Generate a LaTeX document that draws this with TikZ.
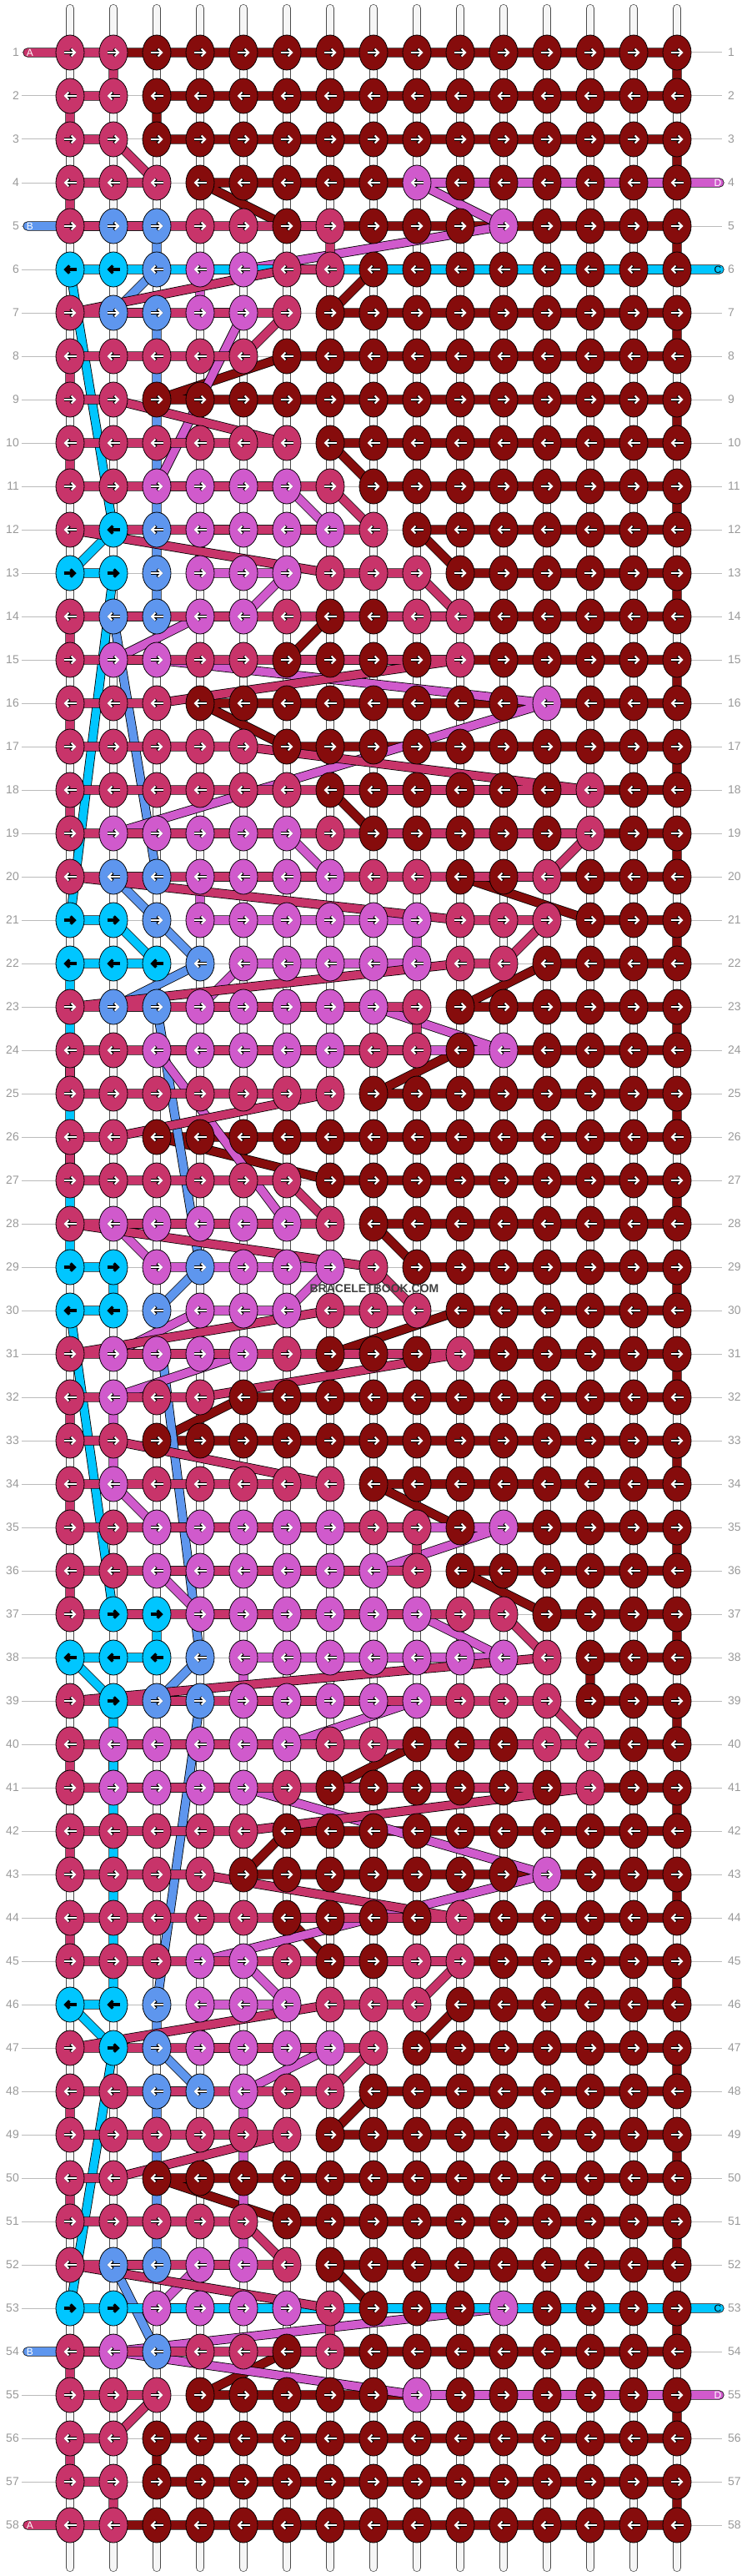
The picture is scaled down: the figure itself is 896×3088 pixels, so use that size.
\documentclass[tikz,border=0pt]{standalone}
\usepackage{fontspec}
\setmainfont{Liberation Sans}
\usepackage{xstring}
\usetikzlibrary{shapes.geometric,arrows.meta}

\pgfdeclarelayer{threads}
\pgfsetlayers{threads,main}

\definecolor{cola}{HTML}{C8346A}
\definecolor{colb}{HTML}{5E96EE}
\definecolor{colc}{HTML}{00C6FF}
\definecolor{cold}{HTML}{D05ACC}
\definecolor{colm}{HTML}{860C0C}
\colorlet{arra}{white}
\colorlet{arrb}{white}
\colorlet{arrc}{black}
\colorlet{arrd}{white}
\colorlet{arrm}{white}
\definecolor{basewhite}{HTML}{F6F6F6}
\definecolor{guidegrey}{HTML}{BBBBBB}
\definecolor{labelgrey}{HTML}{999999}

\begin{document}
\begin{tikzpicture}[
	x=1pt, y=-1pt,
	knot/.style={
		shape=ellipse,
		draw=black,
		line width=0.8pt,
		minimum width=34pt,
		minimum height=42pt,
		inner sep=0pt,
		fill=col#1,
	},
	thread/.style={
		draw=black,
		line width=0.8pt,
		double distance=9.6pt,
		line join=round,
		line cap=round,
	},
	base/.style={
		draw=black!70,
		line width=0.7pt,
		double=basewhite,
		double distance=8.6pt,
		line cap=round,
	},
	guide/.style={draw=guidegrey, line width=1pt},
	rowno/.style={text=labelgrey, font=\fontsize{14}{14}\selectfont, inner sep=0pt},
	tag/.style={font=\fontsize{12}{12}\selectfont, inner sep=0pt},
	knotarrow/.style={line width=#1, -{Straight Barb[length=4.5pt,width=9pt]}},
]
\useasboundingbox (0,0) rectangle (896,3088);

% knots, one row string per row (a pink, b blue, c cyan, d orchid, m maroon)
\foreach \ri/\row in {
	1/aammmmmmmmmmmmm,
	2/aammmmmmmmmmmmm,
	3/aammmmmmmmmmmmm,
	4/aaammmmmdmmmmmm,
	5/abbaamammmdmmmm,
	6/ccbddaammmmmmmm,
	7/abbddammmmmmmmm,
	8/aaaaammmmmmmmmm,
	9/aammmmmmmmmmmmm,
	10/aaaaaammmmmmmmm,
	11/aaddddammmmmmmm,
	12/acbddddammmmmmm,
	13/ccbdddaaammmmmm,
	14/abbddammaammmmm,
	15/addaammmmammmmm,
	16/aaammmmmmmmdmmm,
	17/aaaaammmmmmmmmm,
	18/aaaaaammmmmmamm,
	19/adddddammmmmamm,
	20/abbddddaammammm,
	21/ccbddddddaaammm,
	22/cccbdddddaammmm,
	23/abbdddddammmmmm,
	24/aadddddaamdmmmm,
	25/aaaaaaammmmmmmm,
	26/aammmmmmmmmmmmm,
	27/aaaaaammmmmmmmm,
	28/adddddammmmmmmm,
	29/ccdbdddammmmmmm,
	30/ccbdddaaammmmmm,
	31/addddammmammmmm,
	32/adaammmmmmmmmmm,
	33/aammmmmmmmmmmmm,
	34/adaaaaammmmmmmm,
	35/aadddddaamdmmmm,
	36/aaddddddammmmmm,
	37/accddddddaammmm,
	38/cccbdddddddammm,
	39/acbbdddddaaammm,
	40/adddddaammmaamm,
	41/addddammmmmmamm,
	42/aaaaammmmmmmmmm,
	43/aaaammmmmmmdmmm,
	44/aaaaammmmammmmm,
	45/aaaddammaammmmm,
	46/ccbdddaaammmmmm,
	47/acbddddammmmmmm,
	48/aabbdaammmmmmmm,
	49/aaaaaammmmmmmmm,
	50/aammmmmmmmmmmmm,
	51/aaaaammmmmmmmmm,
	52/abbddammmmmmmmm,
	53/ccddddammmdmmmm,
	54/adbaamammmmmmmm,
	55/aaammmmmdmmmmmm,
	56/aammmmmmmmmmmmm,
	57/aammmmmmmmmmmmm,
	58/aammmmmmmmmmmmm}{
	\ifodd\ri\relax \def\sa{-7.5pt}\def\sb{7.5pt}\else \def\sa{7.5pt}\def\sb{-7.5pt}\fi
	\foreach \ci in {1,...,15}{
		\StrChar{\row}{\ci}[\kc]
		\ifx\kc\empty \def\kc{m}\fi
		\node[knot=\kc] (k-\ri-\ci) at (32+52*\ci, 11+52*\ri) {};
		\draw[knotarrow=3.4pt, draw=black] ([xshift=\sa]k-\ri-\ci.center) -- ([xshift=\sb]k-\ri-\ci.center);
		\draw[knotarrow=2pt, draw=arr\kc] ([xshift=\sa]k-\ri-\ci.center) -- ([xshift=\sb]k-\ri-\ci.center);
	}
	\node[rowno, anchor=east] (ll-\ri) at (23, 11+52*\ri) {\ri};
	\node[rowno, anchor=west] (rl-\ri) at (873, 11+52*\ri) {\ri};
}

% loose ends of the coloured strings
\coordinate (A-in) at (33,63);
\coordinate (A-out) at (33,3027);
\coordinate (B-in) at (33,271);
\coordinate (B-out) at (33,2819);
\coordinate (C-in) at (863,323);
\coordinate (C-out) at (863,2767);
\coordinate (D-in) at (863,219);
\coordinate (D-out) at (863,2871);

\begin{pgfonlayer}{threads}
\foreach \ri in {1,...,58}
	\draw[guide] (26, 11+52*\ri) -- (866, 11+52*\ri);
\foreach \ci in {1,...,15}
	\draw[base] (32+52*\ci, 10) -- (32+52*\ci, 3078);

% maroon
\draw[thread, double=colm] (k-1-2.center) \foreach \ri/\en/\ex in {1/2/15,2/15/3,3/3/15,4/15/4,5/6/15,6/15/8,7/7/15,8/15/6,9/3/15,10/15/7,11/8/15,12/15/9,13/10/15,14/15/7,15/6/15,16/15/4,17/6/15,18/15/7,19/8/15,20/15/10,21/13/15,22/15/12,23/10/15,24/15/10,25/8/15,26/15/3,27/7/15,28/15/8,29/9/15,30/15/10,31/7/15,32/15/5,33/3/15,34/15/8,35/10/15,36/15/10,37/12/15,38/15/13,39/13/15,40/15/9,41/7/15,42/15/6,43/5/15,44/15/6,45/7/15,46/15/10,47/9/15,48/15/8,49/7/15,50/15/3,51/6/15,52/15/7,53/8/15,54/15/6,55/4/15,56/15/3,57/3/15,58/15/2} {-- (k-\ri-\en.center) -- (k-\ri-\ex.center)};
% blue
\draw[thread, double=colb] (B-in) \foreach \ri/\en/\ex in {5/1/3,6/3/3,7/2/3,12/3/3,13/3/3,14/3/2,20/3/2,21/3/3,22/4/4,23/2/3,29/4/4,30/3/3,38/4/4,39/3/4,46/3/3,47/3/3,48/4/3,52/3/2,54/3/1} {-- (k-\ri-\en.center) -- (k-\ri-\ex.center)} -- (B-out);
% orchid
\draw[thread, double=cold] (D-in) \foreach \ri/\en/\ex in {4/15/9,5/11/11,6/5/4,7/4/5,11/3/6,12/7/4,13/4/6,14/5/4,15/2/3,16/12/12,19/2/6,20/7/4,21/4/9,22/9/5,23/4/8,24/11/3,28/6/2,29/3/7,30/6/4,31/2/5,32/2/2,34/2/2,35/3/11,36/8/3,37/4/9,38/11/5,39/5/9,40/6/2,41/2/5,43/12/12,45/4/5,46/6/4,47/4/7,48/5/5,52/5/4,53/3/11,54/2/2,55/9/15} {-- (k-\ri-\en.center) -- (k-\ri-\ex.center)} -- (D-out);
% cyan
\draw[thread, double=colc] (C-in) \foreach \ri/\en/\ex in {6/15/1,12/2/2,13/1/2,21/1/2,22/3/1,29/1/2,30/2/1,37/2/3,38/3/1,39/2/2,46/2/1,47/2/2,53/1/15} {-- (k-\ri-\en.center) -- (k-\ri-\ex.center)} -- (C-out);
% pink
\draw[thread, double=cola] (A-in) \foreach \ri/\en/\ex in {1/1/2,2/2/1,3/1/2,4/3/1,5/1/7,6/7/6,7/1/6,8/5/1,9/1/2,10/6/1,11/1/7,12/8/1,13/7/9,14/10/1,15/1/10,16/3/1,17/1/5,18/13/1,19/1/13,20/12/1,21/10/12,22/11/10,23/1/9,24/9/1,25/1/7,26/2/1,27/1/6,28/7/1,29/8/8,30/9/7,31/1/10,32/4/1,33/1/2,34/7/1,35/1/9,36/9/1,37/1/11,38/12/12,39/1/12,40/13/1,41/1/13,42/5/1,43/1/4,44/10/1,45/1/10,46/9/7,47/1/8,48/7/1,49/1/6,50/2/1,51/1/5,52/6/1,53/7/7,54/7/1,55/1/3,56/2/1,57/1/2,58/2/1} {-- (k-\ri-\en.center) -- (k-\ri-\ex.center)} -- (A-out);
\end{pgfonlayer}

\node[tag, text=white] (tagA1) at (36,63) {A};
\node[tag, text=white] (tagA2) at (36,3027) {A};
\node[tag, text=white] (tagB1) at (36,271) {B};
\node[tag, text=white] (tagB2) at (36,2819) {B};
\node[tag, text=black] (tagC1) at (861,323) {C};
\node[tag, text=black] (tagC2) at (861,2767) {C};
\node[tag, text=white] (tagD1) at (861,219) {D};
\node[tag, text=white] (tagD2) at (861,2871) {D};

\node[font=\bfseries\fontsize{14}{14}\selectfont, text=black!75, inner sep=0pt] (mark) at (449,1545) {BRACELETBOOK.COM};
\end{tikzpicture}
\end{document}
